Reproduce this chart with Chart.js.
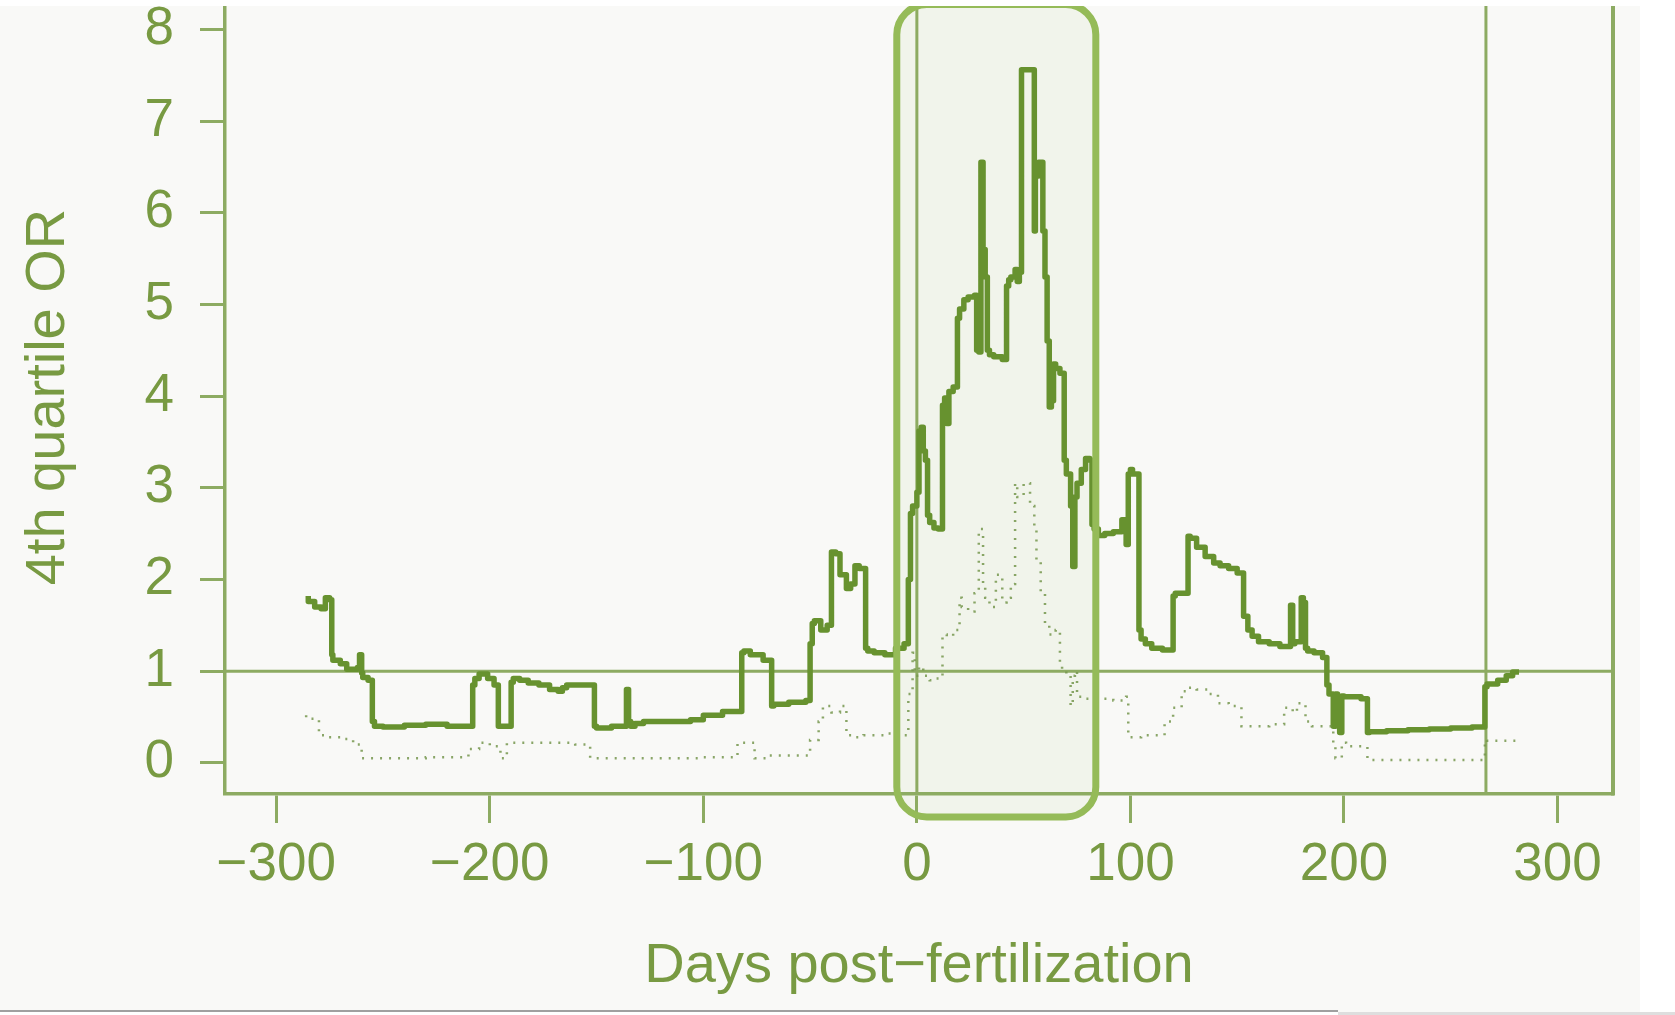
<!DOCTYPE html>
<html>
<head>
<meta charset="utf-8">
<script src="https://cdn.jsdelivr.net/npm/chart.js@4.4.1/dist/chart.umd.min.js"></script>
<style>
  html, body { margin: 0; padding: 0; background: #ffffff; }
  canvas { display: block; }
</style>
</head>
<body>
<canvas id="chart" width="1675" height="1015"></canvas>
<script>
// solid line: 4th quartile OR by day
const solidDays = [
  -285, -282, -279, -277, -275, -274, -273.5, -270, -267, -262, -261, -260, -259.5, -257, -255, -254,
  -250, -240, -230, -220, -212, -208, -207, -205, -201, -198, -196, -195, -190, -189, -186, -182,
  -177, -172, -168, -166, -164, -160, -151, -150, -143, -136, -135, -134, -132, -128, -118, -106,
  -100, -91, -82, -81, -78, -72, -68, -67, -60, -52, -50, -49, -48, -45, -42, -40,
  -38, -36, -33, -31, -29, -27, -24, -23, -20, -15, -10, -6, -4, -3, -2, 0,
  1, 2, 3, 4, 5, 6, 8, 10, 12, 13, 14, 15, 17, 19, 20, 22,
  24, 27, 28, 29, 30, 31, 32, 33, 34, 36, 40, 42, 43, 44, 46, 47,
  48, 49, 49.8, 55, 55.5, 57, 59, 60, 61, 62, 63, 64, 65, 67, 69, 70,
  72, 73, 74, 75, 77, 79, 81, 82, 83, 85, 88, 92, 96, 98, 99, 100,
  101, 104, 105, 107, 110, 115, 120, 121, 125, 127, 128, 131, 135, 139, 142, 146,
  150, 153, 155, 157, 160, 165, 170, 175, 176, 177, 180, 181, 182, 183, 186, 190,
  192, 193, 195, 196, 197, 198, 199, 200, 203, 208, 211, 212, 220, 230, 240, 250,
  260, 266, 267, 272, 276, 279, 282
];
const solidOR = [
  1.82, 1.76, 1.70, 1.68, 1.80, 1.78, 1.18, 1.12, 1.08, 1.02, 1.04, 1.18, 0.98, 0.93, 0.90, 0.45,
  0.40, 0.39, 0.41, 0.42, 0.40, 0.40, 0.85, 0.92, 0.97, 0.92, 0.85, 0.40, 0.40, 0.88, 0.92, 0.90,
  0.87, 0.85, 0.80, 0.78, 0.82, 0.85, 0.85, 0.40, 0.38, 0.40, 0.80, 0.45, 0.40, 0.43, 0.45, 0.45,
  0.47, 0.52, 0.56, 1.20, 1.22, 1.18, 1.12, 0.62, 0.64, 0.66, 0.68, 1.30, 1.52, 1.55, 1.45, 1.50,
  2.30, 2.28, 2.05, 1.90, 1.95, 2.15, 2.12, 1.25, 1.22, 1.20, 1.18, 1.25, 1.30, 2.00, 2.72, 2.80,
  2.95, 3.62, 3.66, 3.40, 3.30, 2.70, 2.62, 2.56, 2.55, 3.90, 3.98, 3.70, 4.05, 4.10, 4.85, 4.95,
  5.05, 5.08, 5.10, 4.50, 4.48, 6.55, 5.60, 5.30, 4.50, 4.45, 4.43, 4.40, 5.20, 5.27, 5.30, 5.38,
  5.25, 5.35, 7.56, 7.56, 5.80, 6.40, 6.55, 5.80, 5.30, 4.60, 3.88, 3.95, 4.35, 4.30, 4.25, 3.30,
  3.15, 2.80, 2.14, 2.90, 3.05, 3.20, 3.32, 3.30, 2.60, 2.55, 2.48, 2.50, 2.52, 2.65, 2.38, 3.15,
  3.20, 3.15, 1.45, 1.35, 1.30, 1.25, 1.23, 1.82, 1.85, 1.85, 2.47, 2.45, 2.35, 2.25, 2.18, 2.15,
  2.12, 2.07, 1.60, 1.45, 1.38, 1.32, 1.30, 1.27, 1.72, 1.30, 1.32, 1.80, 1.75, 1.25, 1.22, 1.20,
  1.15, 0.85, 0.75, 0.40, 0.75, 0.70, 0.33, 0.73, 0.72, 0.72, 0.70, 0.33, 0.34, 0.35, 0.36, 0.37,
  0.38, 0.39, 0.83, 0.86, 0.90, 0.95, 0.99
];

// dotted line
const dottedDays = [
  -286, -280, -277, -270, -264, -260, -255, -230, -210, -205, -200, -195, -192, -190, -170, -160,
  -153, -151, -120, -100, -84, -82, -76, -74, -70, -50, -46, -44, -40, -36, -33, -30,
  -25, -20, -15, -8, -4, -2, -1, 1, 3, 6, 8, 12, 14, 17, 20, 21,
  24, 27, 29, 31, 32, 34, 37, 40, 42, 44, 46, 47, 50, 53, 55, 56,
  58, 60, 62, 65, 67, 68, 70, 72, 73, 74, 75, 78, 86, 92, 98, 99,
  100, 105, 110, 116, 120, 124, 127, 131, 137, 141, 146, 152, 156, 165, 172, 176,
  178, 182, 185, 190, 195, 196, 199, 201, 205, 211, 213, 240, 266, 267, 275, 281
];
const dottedOR = [
  0.52, 0.48, 0.30, 0.28, 0.26, 0.20, 0.05, 0.05, 0.06, 0.15, 0.22, 0.18, 0.05, 0.22, 0.22, 0.22,
  0.20, 0.05, 0.05, 0.05, 0.06, 0.22, 0.22, 0.05, 0.05, 0.08, 0.25, 0.45, 0.62, 0.55, 0.62, 0.30,
  0.28, 0.30, 0.30, 0.32, 0.30, 0.75, 1.20, 0.95, 1.05, 0.95, 0.90, 0.92, 1.40, 1.38, 1.45, 1.80,
  1.70, 1.65, 1.85, 2.55, 1.95, 1.80, 1.70, 2.05, 1.75, 1.80, 1.95, 3.05, 2.90, 3.05, 2.80, 2.55,
  2.20, 1.85, 1.50, 1.40, 1.45, 1.10, 1.00, 0.95, 0.62, 0.95, 1.00, 0.72, 0.70, 0.70, 0.68, 0.72,
  0.28, 0.28, 0.30, 0.30, 0.45, 0.60, 0.78, 0.82, 0.80, 0.75, 0.65, 0.62, 0.40, 0.40, 0.42, 0.60,
  0.55, 0.65, 0.45, 0.40, 0.40, 0.20, 0.05, 0.22, 0.18, 0.18, 0.03, 0.03, 0.03, 0.25, 0.24, 0.24
];

const xTicks = [-300, -200, -100, 0, 100, 200, 300];
const yTicks = [0, 1, 2, 3, 4, 5, 6, 7, 8];
const refOR = 1;
const refDays = [0, 266.5];
const windowDays = [-9.4, 83.8];
const windowOR = [-0.59, 8.27];

const textColor = '#789a42';
const axisColor = '#8dab62';
const fontFamily = "'Liberation Sans', Arial, Helvetica, sans-serif";

function toPoints(xs, ys) {
  return xs.map((d, i) => ({ x: d, y: ys[i] }));
}

function roundRectPath(ctx, x0, y0, x1, y1, r) {
  ctx.beginPath();
  ctx.moveTo(x0 + r, y0);
  ctx.lineTo(x1 - r, y0);
  ctx.arcTo(x1, y0, x1, y0 + r, r);
  ctx.lineTo(x1, y1 - r);
  ctx.arcTo(x1, y1, x1 - r, y1, r);
  ctx.lineTo(x0 + r, y1);
  ctx.arcTo(x0, y1, x0, y1 - r, r);
  ctx.lineTo(x0, y0 + r);
  ctx.arcTo(x0, y0, x0 + r, y0, r);
  ctx.closePath();
}

const decorations = {
  id: 'decorations',
  beforeDraw(chart) {
    const { ctx, width, height } = chart;
    ctx.save();
    ctx.fillStyle = '#f9f9f7';
    ctx.fillRect(0, 0, width, height);
    ctx.restore();
  },
  beforeDatasetsDraw(chart) {
    const { ctx, chartArea: a, scales: { x, y } } = chart;
    ctx.save();
    // highlighted window fill
    roundRectPath(ctx, x.getPixelForValue(windowDays[0]), y.getPixelForValue(windowOR[1]),
      x.getPixelForValue(windowDays[1]), y.getPixelForValue(windowOR[0]), 30);
    ctx.fillStyle = 'rgba(150, 190, 100, 0.08)';
    ctx.fill();
    // reference lines
    ctx.strokeStyle = axisColor;
    ctx.lineWidth = 3;
    ctx.beginPath();
    refDays.forEach(d => {
      const px = x.getPixelForValue(d);
      ctx.moveTo(px, a.top);
      ctx.lineTo(px, a.bottom);
    });
    const py = y.getPixelForValue(refOR);
    ctx.moveTo(a.left, py);
    ctx.lineTo(a.right, py);
    ctx.stroke();
    ctx.restore();
  },
  afterDatasetsDraw(chart) {
    const { ctx, chartArea: a, scales: { x, y } } = chart;
    ctx.save();
    // right side of the plot box
    ctx.strokeStyle = axisColor;
    ctx.lineWidth = 4;
    ctx.beginPath();
    ctx.moveTo(a.right, a.top);
    ctx.lineTo(a.right, a.bottom + 1.5);
    ctx.stroke();
    // window border
    roundRectPath(ctx, x.getPixelForValue(windowDays[0]), y.getPixelForValue(windowOR[1]),
      x.getPixelForValue(windowDays[1]), y.getPixelForValue(windowOR[0]), 30);
    ctx.strokeStyle = '#95bb58';
    ctx.lineWidth = 7;
    ctx.stroke();
    ctx.restore();
  },
  afterDraw(chart) {
    const { ctx, width, height } = chart;
    ctx.save();
    ctx.fillStyle = '#ffffff';
    ctx.fillRect(0, 0, width, 6);
    ctx.fillRect(1640, 0, width - 1640, height);
    ctx.fillRect(0, 1012, width, height - 1012);
    ctx.fillStyle = '#dedede';
    ctx.fillRect(1338, 1012, width - 1338, height - 1012);
    ctx.fillStyle = '#a0a0a0';
    ctx.fillRect(0, 1010, 1338, 2);
    ctx.restore();
  }
};

new Chart(document.getElementById('chart'), {
  type: 'line',
  data: {
    datasets: [{
      label: 'dotted',
      data: toPoints(dottedDays, dottedOR),
      borderColor: 'rgba(118, 150, 78, 0.85)',
      borderWidth: 2.5,
      borderDash: [2, 7],
      stepped: 'after',
      pointRadius: 0
    }, {
      label: '4th quartile OR',
      data: toPoints(solidDays, solidOR),
      borderColor: '#67922f',
      borderWidth: 5.5,
      borderJoinStyle: 'round',
      stepped: 'after',
      pointRadius: 0
    }]
  },
  options: {
    responsive: false,
    animation: false,
    devicePixelRatio: 1,
    layout: { padding: { top: 0, right: 62, bottom: 0, left: 0 } },
    plugins: { legend: { display: false }, tooltip: { enabled: false } },
    scales: {
      x: {
        type: 'linear',
        min: -324,
        max: 326,
        afterBuildTicks: s => { s.ticks = xTicks.map(v => ({ value: v })); },
        afterFit: s => { s.height = 221; s.paddingLeft = 0; s.paddingRight = 0; },
        grid: { display: true, drawOnChartArea: false, drawTicks: true, tickLength: 29, tickWidth: 3, tickColor: axisColor },
        border: { display: true, color: axisColor, width: 3.5 },
        ticks: {
          color: textColor,
          font: { family: fontFamily, size: 53 },
          padding: 11,
          maxRotation: 0,
          autoSkip: false,
          callback: v => String(v).replace('-', '\u2212')
        },
        title: {
          display: true,
          text: 'Days post\u2212fertilization',
          color: textColor,
          font: { family: fontFamily, size: 56 },
          padding: { top: 0, bottom: 15 }
        }
      },
      y: {
        type: 'linear',
        min: -0.34,
        max: 8.32,
        afterBuildTicks: s => { s.ticks = yTicks.map(v => ({ value: v })); },
        afterFit: s => { s.width = 225; s.paddingTop = 0; s.paddingBottom = 0; },
        grid: { display: true, drawOnChartArea: false, drawTicks: true, tickLength: 25, tickWidth: 3, tickColor: axisColor },
        border: { display: true, color: axisColor, width: 3.5 },
        ticks: {
          color: textColor,
          font: { family: fontFamily, size: 53 },
          padding: 26,
          autoSkip: false
        },
        title: {
          display: true,
          text: '4th quartile OR',
          color: textColor,
          font: { family: fontFamily, size: 56 },
          padding: { top: 15, bottom: 0 }
        }
      }
    }
  },
  plugins: [decorations]
});
</script>
</body>
</html>
